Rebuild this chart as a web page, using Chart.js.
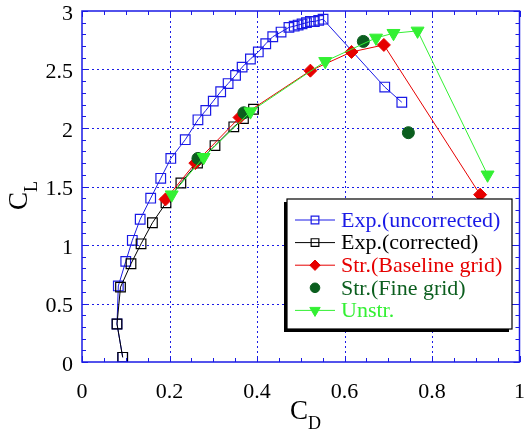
<!DOCTYPE html>
<html>
<head>
<meta charset="utf-8">
<script src="https://cdn.jsdelivr.net/npm/chart.js@4.4.1/dist/chart.umd.min.js"></script>
<style>
  html, body { margin: 0; padding: 0; background: #fff; }
</style>
</head>
<body>
<canvas id="polar" width="528" height="432"></canvas>
<script>
// --- data: drag polar C_L vs C_D ---
const expUncorrCD = [0.093, 0.080, 0.083, 0.100, 0.115, 0.133, 0.157, 0.180, 0.203, 0.236, 0.265, 0.283,
                     0.300, 0.317, 0.334, 0.351, 0.366, 0.385, 0.403, 0.420, 0.436, 0.455, 0.473, 0.485,
                     0.494, 0.503, 0.513, 0.522, 0.531, 0.541, 0.551, 0.692, 0.731];
const expUncorrCL = [0.04, 0.325, 0.65, 0.86, 1.04, 1.22, 1.40, 1.57, 1.74, 1.90, 2.07, 2.15,
                     2.23, 2.31, 2.38, 2.45, 2.52, 2.59, 2.65, 2.72, 2.78, 2.82, 2.86, 2.87,
                     2.88, 2.89, 2.90, 2.91, 2.91, 2.92, 2.93, 2.35, 2.22];

const expCorrCD = [0.093, 0.080, 0.088, 0.112, 0.135, 0.161, 0.192, 0.226, 0.264, 0.304, 0.347, 0.369, 0.392];
const expCorrCL = [0.04, 0.325, 0.64, 0.84, 1.01, 1.19, 1.36, 1.53, 1.70, 1.85, 2.01, 2.08, 2.16];

const strBaseCD = [0.191, 0.259, 0.360, 0.522, 0.616, 0.690, 0.910];
const strBaseCL = [1.39, 1.70, 2.09, 2.49, 2.65, 2.71, 1.43];

const strFineCD = [0.265, 0.370, 0.643, 0.746];
const strFineCL = [1.74, 2.13, 2.74, 1.96];

const unstrCD = [0.205, 0.278, 0.385, 0.556, 0.672, 0.712, 0.767, 0.927];
const unstrCL = [1.43, 1.75, 2.14, 2.57, 2.77, 2.81, 2.83, 1.60];

const seriesLabels = ['Exp.(uncorrected)', 'Exp.(corrected)', 'Str.(Baseline grid)', 'Str.(Fine grid)', 'Unstr.'];
const seriesColors = ['#1a1ae6', '#000000', '#e60000', '#0b5e1e', '#33f033'];

const xTicks = [0, 0.2, 0.4, 0.6, 0.8, 1];
const yTicks = [0, 0.5, 1, 1.5, 2, 2.5, 3];
const xTickText = ['0', '0.2', '0.4', '0.6', '0.8', '1'];
const yTickText = ['0', '0.5', '1', '1.5', '2', '2.5', '3'];

const FRAME = '#1a1ae6';
const SERIF = '"Liberation Serif", "Times New Roman", serif';

const pts = (xs, ys) => xs.map((v, i) => ({x: v, y: ys[i]}));

// --- axes: dotted grid, inward ticks, labels, titles ---
const axesDecor = {
    id: 'axesDecor',
    beforeDatasetsDraw(chart) {
        const {ctx, chartArea: a, scales: {x, y}} = chart;
        ctx.save();
        ctx.strokeStyle = FRAME;
        ctx.lineWidth = 1;
        ctx.setLineDash([2, 3]);
        ctx.beginPath();
        xTicks.slice(1, -1).forEach(v => {
            const px = Math.round(x.getPixelForValue(v)) + 0.5;
            ctx.moveTo(px, a.top); ctx.lineTo(px, a.bottom);
        });
        yTicks.slice(1, -1).forEach(v => {
            const py = Math.round(y.getPixelForValue(v)) + 0.5;
            ctx.moveTo(a.left, py); ctx.lineTo(a.right, py);
        });
        ctx.stroke();
        ctx.restore();
    },
    afterDatasetsDraw(chart) {
        const {ctx, chartArea: a, scales: {x, y}} = chart;
        ctx.save();
        ctx.strokeStyle = FRAME;
        ctx.lineWidth = 1.5;
        ctx.strokeRect(a.left, a.top, a.right - a.left, a.bottom - a.top);

        // minor + major tick marks on all four sides
        ctx.lineWidth = 1;
        ctx.beginPath();
        for (let i = 0; i <= 20; i++) {
            const px = Math.round(x.getPixelForValue(i * 0.05)) + 0.5;
            const len = i % 4 === 0 ? 6 : 4;
            ctx.moveTo(px, a.bottom); ctx.lineTo(px, a.bottom - len);
            ctx.moveTo(px, a.top); ctx.lineTo(px, a.top + len);
        }
        for (let i = 0; i <= 30; i++) {
            const py = Math.round(y.getPixelForValue(i * 0.1)) + 0.5;
            const len = i % 5 === 0 ? 6 : 4;
            ctx.moveTo(a.left, py); ctx.lineTo(a.left + len, py);
            ctx.moveTo(a.right, py); ctx.lineTo(a.right - len, py);
        }
        ctx.stroke();

        // tick labels
        ctx.fillStyle = '#000';
        ctx.font = '22px ' + SERIF;
        ctx.textAlign = 'center';
        ctx.textBaseline = 'middle';
        xTicks.forEach((v, i) => ctx.fillText(xTickText[i], x.getPixelForValue(v), a.bottom + 30));
        ctx.textAlign = 'right';
        yTicks.forEach((v, i) => ctx.fillText(yTickText[i], a.left - 9, y.getPixelForValue(v) + 3));

        // C_D
        ctx.textAlign = 'left';
        ctx.textBaseline = 'alphabetic';
        ctx.font = '27px ' + SERIF;
        ctx.fillText('C', 290, 419);
        ctx.font = '18px ' + SERIF;
        ctx.fillText('D', 308, 429);

        // C_L, rotated
        ctx.translate(27, 210);
        ctx.rotate(-Math.PI / 2);
        ctx.font = '27px ' + SERIF;
        ctx.fillText('C', 0, 0);
        ctx.font = '18px ' + SERIF;
        ctx.fillText('L', 18, 10);
        ctx.restore();
    },
    afterDraw(chart) {
        // boxed legend with drop shadow
        const {ctx} = chart;
        const box = {l: 287, t: 199, r: 512, b: 329};
        ctx.save();
        ctx.fillStyle = '#000';
        ctx.fillRect(box.l - 3, box.t + 3, box.r - box.l, box.b - box.t);
        ctx.fillStyle = '#fff';
        ctx.fillRect(box.l, box.t, box.r - box.l, box.b - box.t);
        ctx.strokeStyle = '#000';
        ctx.lineWidth = 1.2;
        ctx.strokeRect(box.l, box.t, box.r - box.l, box.b - box.t);

        ctx.font = '22px ' + SERIF;
        ctx.textBaseline = 'middle';
        chart.data.datasets.forEach((ds, i) => {
            const cy = 220 + i * 22.6;
            if (ds.showLine) {
                ctx.strokeStyle = ds.borderColor;
                ctx.lineWidth = 1;
                ctx.beginPath();
                ctx.moveTo(295, cy); ctx.lineTo(335, cy);
                ctx.stroke();
            }
            ctx.strokeStyle = ds.pointBorderColor;
            ctx.fillStyle = ds.pointBackgroundColor;
            ctx.lineWidth = ds.pointBorderWidth;
            Chart.helpers.drawPoint(ctx, {
                pointStyle: ds.pointStyle,
                radius: ds.pointRadius * 0.8,
                rotation: ds.pointRotation || 0,
                borderWidth: ds.pointBorderWidth
            }, 315, cy);
            ctx.fillStyle = seriesColors[i];
            ctx.fillText(ds.label, 341, cy + 1);
        });
        ctx.restore();
    }
};

const ctx = document.getElementById('polar').getContext('2d');
new Chart(ctx, {
    type: 'scatter',
    data: {
        datasets: [{
            label: seriesLabels[0],
            data: pts(expUncorrCD, expUncorrCL),
            showLine: true,
            borderColor: seriesColors[0],
            borderWidth: 1,
            pointStyle: 'rect',
            pointRadius: 6.8,
            pointBorderColor: seriesColors[0],
            pointBackgroundColor: 'rgba(0,0,0,0)',
            pointBorderWidth: 1.2,
            order: 5
        }, {
            label: seriesLabels[1],
            data: pts(expCorrCD, expCorrCL),
            showLine: true,
            borderColor: seriesColors[1],
            borderWidth: 1,
            pointStyle: 'rect',
            pointRadius: 6.8,
            pointBorderColor: seriesColors[1],
            pointBackgroundColor: 'rgba(0,0,0,0)',
            pointBorderWidth: 1.2,
            order: 4
        }, {
            label: seriesLabels[2],
            data: pts(strBaseCD, strBaseCL),
            showLine: true,
            borderColor: seriesColors[2],
            borderWidth: 1,
            pointStyle: 'rectRot',
            pointRadius: 6.5,
            pointBorderColor: seriesColors[2],
            pointBackgroundColor: seriesColors[2],
            pointBorderWidth: 1,
            order: 3
        }, {
            label: seriesLabels[3],
            data: pts(strFineCD, strFineCL),
            showLine: false,
            borderColor: seriesColors[3],
            pointStyle: 'circle',
            pointRadius: 6,
            pointBorderColor: seriesColors[3],
            pointBackgroundColor: seriesColors[3],
            pointBorderWidth: 1,
            order: 2
        }, {
            label: seriesLabels[4],
            data: pts(unstrCD, unstrCL),
            showLine: true,
            borderColor: seriesColors[4],
            borderWidth: 1,
            pointStyle: 'triangle',
            pointRotation: 180,
            pointRadius: 7.5,
            pointBorderColor: seriesColors[4],
            pointBackgroundColor: seriesColors[4],
            pointBorderWidth: 1,
            order: 1
        }]
    },
    options: {
        responsive: false,
        animation: false,
        layout: { padding: { left: 82, top: 11, right: 3, bottom: 70 } },
        plugins: { legend: { display: false }, tooltip: { enabled: false } },
        elements: { line: { tension: 0 } },
        scales: {
            // scales stay hidden; the frame, ticks and labels are drawn by axesDecor
            x: { type: 'linear', min: 0, max: 1, display: false },
            y: { type: 'linear', min: 0, max: 3, display: false }
        }
    },
    plugins: [axesDecor]
});
</script>
</body>
</html>
